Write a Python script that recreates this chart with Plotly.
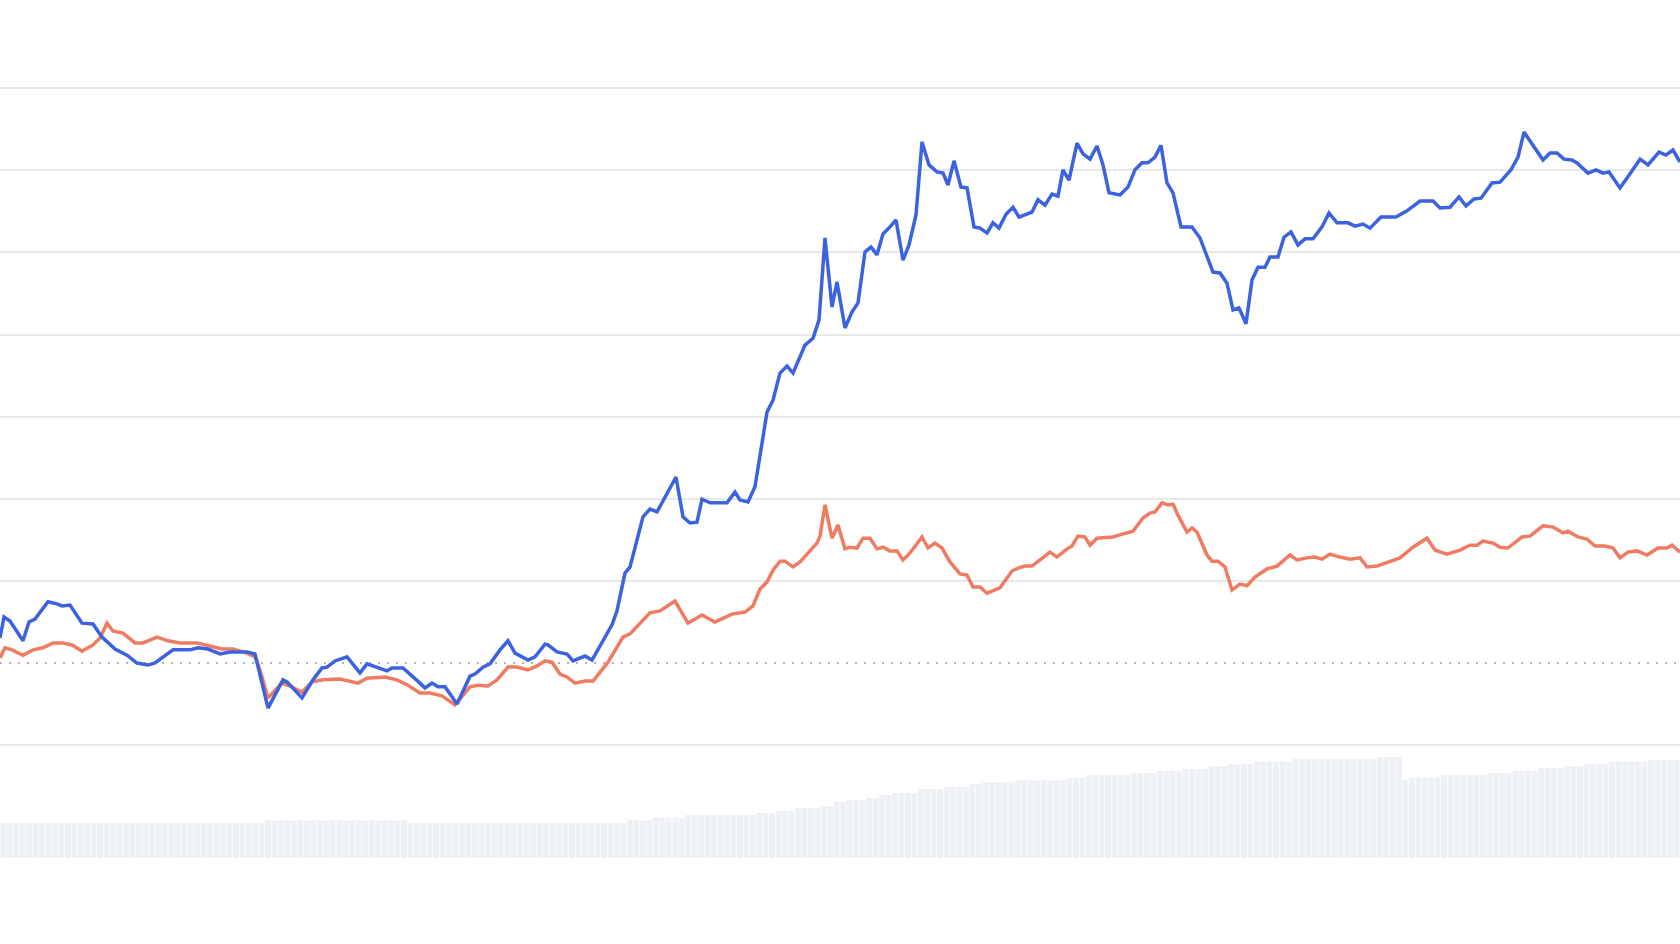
import plotly.graph_objects as go

# ---- data ----
# time axis for the two return lines (arbitrary day units)
t_blue = [0, 0.8, 2, 4.6, 5.8, 7, 9.6, 11.4, 12.4, 14, 16.4, 18.6, 20.4, 23, 25.4, 27.4, 29.6, 31, 34.6, 38,
          39.6, 41.6, 44, 46, 49.4, 51, 53.6, 56.6, 57.4, 60.4, 62.6, 64.4, 65.4, 67, 69.4, 72, 73.4, 75.4, 77.4, 78.4,
          80.6, 84, 85, 86.4, 87.6, 89, 91.4, 94, 95, 96.6, 98, 100, 101.6, 103, 105.6, 107, 109, 109.6, 111.4, 113.4,
          114.6, 117, 118.4, 122.4, 123.4, 125, 126, 128.6, 130, 131.4, 133, 135.2, 136.6, 138, 139.4, 140.4, 142, 145.4, 147, 148,
          149.6, 151, 153.4, 154.6, 156, 157.4, 158.6, 161, 162.6, 163.8, 165, 166.4, 167.4, 169, 170.4, 171.6, 173, 174.2, 175.4, 176.6,
          178, 179.2, 180.6, 181.8, 183.2, 184.4, 185.8, 187.4, 188.6, 189.6, 190.8, 192.2, 193.4, 194.8, 196, 197.4, 198.6, 199.8, 201.2, 202.6,
          203.8, 206.4, 207.6, 209, 210.4, 211.6, 212.6, 213.8, 215.4, 216.6, 218, 219.4, 220.6, 221.8, 224, 225.6, 227, 228.4, 229.6, 231,
          232.2, 233.4, 234.6, 236.2, 238.4, 240, 242.6, 244, 245.4, 246.6, 247.8, 249.2, 250.4, 251.6, 253, 254, 255.6, 256.8, 258.2, 259.6,
          261, 262.6, 264.4, 265.8, 267.4, 269.6, 271, 272.6, 274, 276.2, 279.2, 281.4, 284, 286.6, 288, 290, 291.8, 293.2, 294.8, 296.2,
          298.4, 300, 302.2, 303.6, 304.8, 307, 308.6, 310, 311.4, 312.8, 314.4, 315.4, 317.6, 319.2, 320.6, 321.8, 324, 325.8, 328, 329.6,
          331.8, 333.2, 334.6, 336]
blue = [6.1, 11.2, 10.2, 5.4, 10.0, 10.7, 14.9, 14.4, 13.9, 14.1, 9.7, 9.5, 6.3, 3.4, 1.9, 0.0, -0.5, 0.0, 3.2, 3.2,
        3.7, 3.4, 2.2, 2.7, 2.7, 2.2, -11.0, -4.1, -4.6, -8.5, -4.1, -1.2, -1.0, 0.5, 1.5, -2.4, -0.2, -1.0, -1.9, -1.2,
        -1.2, -4.9, -6.1, -4.9, -5.8, -5.8, -10.0, -3.2, -2.7, -1.0, -0.2, 3.2, 5.4, 2.4, 0.7, 1.5, 4.6, 4.4, 2.7, 2.2,
        0.5, 1.7, 0.7, 9.3, 12.7, 21.9, 23.4, 35.6, 37.5, 36.8, 40.4, 45.3, 35.6, 34.1, 34.3, 39.9, 39.0, 39.0, 41.6, 39.7,
        39.2, 42.9, 61.1, 64.0, 70.6, 72.3, 70.6, 77.4, 79.1, 83.5, 103.5, 86.7, 92.8, 81.6, 85.5, 87.7, 100.1, 101.3, 99.4, 104.5,
        106.2, 107.9, 98.1, 101.8, 109.1, 126.9, 121.3, 119.6, 119.3, 116.4, 122.3, 115.9, 115.7, 106.2, 105.9, 104.7, 107.2, 105.9, 109.3, 111.0,
        108.6, 109.8, 112.8, 111.5, 114.2, 113.7, 120.1, 117.6, 126.6, 124.0, 122.7, 125.9, 121.3, 114.5, 114.0, 115.9, 120.1, 121.8, 121.8, 123.2,
        126.1, 116.9, 114.5, 106.2, 106.2, 103.5, 95.2, 95.0, 92.5, 86.0, 86.5, 82.6, 93.3, 96.4, 96.4, 98.9, 98.9, 103.7, 105.0, 101.8,
        103.3, 103.3, 106.2, 109.6, 107.2, 107.2, 106.4, 106.9, 105.9, 108.6, 108.6, 110.1, 112.5, 112.5, 110.8, 111.0, 113.5, 111.3, 113.0, 113.2,
        116.9, 117.1, 120.1, 123.2, 129.3, 125.4, 122.5, 124.2, 124.2, 122.7, 122.5, 121.8, 119.3, 120.1, 119.3, 119.6, 115.7, 118.8, 122.7, 121.3,
        124.4, 123.7, 124.9, 122.0]

t_red = [0, 1, 2.4, 4.6, 6.6, 8.6, 10.6, 12.4, 14.4, 16.4, 18.6, 20, 21.4, 22.6, 24.6, 27, 28.6, 31.4, 33.6, 36,
         39.4, 42, 44.4, 46.6, 49.4, 51, 52, 53.6, 56.4, 58, 60.4, 62.4, 64.6, 68, 71.6, 73.4, 77, 79.4, 81.6, 84,
         86, 88.4, 91, 94, 95.6, 97.6, 99.4, 101.6, 103.4, 105.6, 107.4, 109, 110.4, 112, 113.4, 115, 117, 118.6, 121.6, 124.6,
         126, 130, 132, 135, 137.6, 140.4, 143, 146.4, 149, 150.6, 152, 153.4, 154.6, 156, 157, 158.6, 160, 162, 163.4, 164,
         165, 166.4, 167.6, 169, 170, 171.4, 172.6, 174, 175.4, 176.6, 178, 179.4, 180.6, 182, 184.4, 185.6, 187, 188.4, 190, 192,
         193.4, 194.6, 196, 197.4, 200, 202.4, 203.6, 205, 206.4, 208, 210, 211.4, 213.4, 214.4, 215.6, 217, 218, 219.4, 222.6, 224,
         225.4, 226.6, 228.6, 230, 231, 232.4, 233.6, 234.6, 235.6, 237.4, 238.4, 239.4, 241.4, 242.4, 243.6, 245, 246.4, 248, 249.4, 251,
         253.4, 255.4, 258, 259.4, 261.4, 263, 264.4, 266, 268, 270, 272, 273.4, 275.4, 278, 280, 282.6, 285.4, 287, 289.4, 292,
         294, 295.4, 296.6, 298.6, 300, 301.6, 304.4, 306, 308.6, 310.6, 312.6, 313.6, 315.6, 317.4, 319, 321, 322.6, 324, 325.6, 327.4,
         329.4, 331.6, 333.4, 334.4, 336]
red = [1.2, 3.7, 3.2, 1.9, 3.2, 3.7, 4.9, 4.9, 4.4, 2.9, 4.4, 6.1, 9.7, 7.8, 7.3, 4.9, 4.9, 6.3, 5.4, 4.9,
       4.9, 4.1, 3.4, 3.4, 2.4, 1.5, -1.7, -8.5, -4.9, -5.6, -7.1, -4.6, -4.1, -3.9, -4.9, -3.7, -3.4, -4.1, -5.4, -7.3,
       -7.3, -8.0, -10.2, -5.8, -5.4, -5.6, -4.1, -1.0, -1.0, -1.7, -0.7, 0.5, 0.2, -2.7, -3.4, -4.9, -4.4, -4.4, 0.2, 6.3,
       7.1, 12.2, 12.7, 15.1, 9.7, 11.7, 10.0, 11.9, 12.4, 13.9, 18.0, 19.7, 22.6, 24.8, 24.8, 23.4, 24.6, 27.3, 29.2, 30.9,
       38.5, 30.4, 33.6, 27.8, 28.2, 28.0, 30.4, 30.4, 27.8, 28.2, 27.3, 27.3, 25.1, 26.8, 30.7, 28.0, 29.2, 28.0, 24.6, 21.7,
       21.4, 18.5, 18.5, 17.0, 18.3, 22.4, 23.1, 23.6, 23.6, 25.1, 27.0, 25.8, 27.8, 28.5, 30.9, 30.7, 28.7, 30.4, 30.7, 31.2,
       31.7, 32.1, 35.3, 36.5, 36.8, 39.0, 38.5, 38.7, 36.0, 31.9, 32.9, 31.9, 26.3, 24.8, 24.8, 23.4, 17.8, 19.2, 18.8, 20.9,
       22.9, 23.6, 26.3, 25.1, 25.6, 25.8, 25.3, 26.5, 25.8, 25.3, 25.6, 23.4, 23.6, 24.8, 25.6, 28.2, 30.4, 27.5, 26.5, 27.5,
       28.7, 28.7, 29.7, 29.2, 28.2, 28.0, 30.7, 30.9, 33.4, 33.1, 31.7, 32.1, 30.7, 30.2, 28.5, 28.5, 28.0, 25.6, 27.0, 27.3,
       26.3, 28.0, 28.0, 28.7, 27.0]

# daily volume bars (one per trading day)
volume = [
    3.5, 3.5, 3.5, 3.5, 3.5, 3.5, 3.5, 3.5, 3.5, 3.5,
    3.5, 3.5, 3.5, 3.5, 3.5, 3.5, 3.5, 3.5, 3.5, 3.5,
    3.5, 3.5, 3.5, 3.5, 3.5, 3.5, 3.5, 3.5, 3.5, 3.5,
    3.5, 3.5, 3.5, 3.5, 3.5, 3.5, 3.5, 3.5, 3.5, 3.5, 3.5,
    3.8, 3.8, 3.8, 3.8, 3.8, 3.8, 3.8, 3.8, 3.8, 3.8, 3.8,
    3.8, 3.8, 3.8, 3.8, 3.8, 3.8, 3.8, 3.8, 3.8, 3.8, 3.8,
    3.5, 3.5, 3.5, 3.5, 3.5, 3.5, 3.5, 3.5, 3.5, 3.5,
    3.5, 3.5, 3.5, 3.5, 3.5, 3.5, 3.5, 3.5, 3.5, 3.5,
    3.5, 3.5, 3.5, 3.5, 3.5, 3.5, 3.5, 3.5, 3.5, 3.5,
    3.5, 3.5, 3.5, 3.5,
    3.8, 3.8, 3.8, 3.8,
    4.0, 4.0, 4.0, 4.0, 4.0,
    4.3, 4.3, 4.3, 4.3, 4.3, 4.3, 4.3, 4.3, 4.3, 4.3, 4.3,
    4.5, 4.5, 4.5,
    4.7, 4.7, 4.7,
    5.0, 5.0, 5.0, 5.0,
    5.2, 5.2,
    5.6, 5.6,
    5.8, 5.8, 5.8,
    6.0, 6.0,
    6.3, 6.3,
    6.5, 6.5, 6.5, 6.5,
    6.9, 6.9, 6.9, 6.9,
    7.1, 7.1, 7.1, 7.1,
    7.4, 7.4,
    7.6, 7.6, 7.6, 7.6, 7.6,
    7.8, 7.8, 7.8, 7.8, 7.8, 7.8, 7.8, 7.8,
    8.0, 8.0, 8.0,
    8.3, 8.3, 8.3, 8.3, 8.3, 8.3, 8.3,
    8.5, 8.5, 8.5, 8.5,
    8.7, 8.7, 8.7, 8.7,
    8.9, 8.9, 8.9, 8.9,
    9.2, 9.2, 9.2,
    9.4, 9.4, 9.4, 9.4,
    9.6, 9.6, 9.6, 9.6, 9.6, 9.6,
    9.9, 9.9, 9.9, 9.9, 9.9, 9.9, 9.9, 9.9, 9.9, 9.9, 9.9, 9.9, 9.9,
    10.1, 10.1, 10.1, 10.1,
    7.8,
    8.0, 8.0, 8.0, 8.0, 8.0,
    8.3, 8.3, 8.3, 8.3, 8.3, 8.3, 8.3,
    8.5, 8.5, 8.5, 8.5,
    8.7, 8.7, 8.7, 8.7,
    9.0, 9.0, 9.0, 9.0,
    9.2, 9.2, 9.2,
    9.4, 9.4, 9.4, 9.4,
    9.6, 9.6, 9.6, 9.6, 9.6, 9.6,
    9.8, 9.8, 9.8, 9.8, 9.8,
]
bar_days = list(range(len(volume)))

grid_vals = [-20, 20, 40, 60, 80, 100, 120, 140]

BLUE = "#3d62df"
RED = "#ef7b63"
BAR = "#edf0f4"

fig = go.Figure()

fig.add_trace(go.Bar(
    x=bar_days, y=volume, xaxis="x2", yaxis="y2",
    marker=dict(color=BAR, line=dict(width=0)),
    hoverinfo="skip", showlegend=False,
))

fig.add_trace(go.Scatter(
    x=t_red, y=red, mode="lines",
    line=dict(color=RED, width=3.5), showlegend=False,
))
fig.add_trace(go.Scatter(
    x=t_blue, y=blue, mode="lines",
    line=dict(color=BLUE, width=3.5), showlegend=False,
))

fig.add_shape(type="line", xref="paper", x0=0, x1=1, yref="y", y0=0, y1=0,
              line=dict(color="#9a9a9a", width=1.5, dash="2px,7px"), layer="below")

fig.update_layout(
    width=1680, height=944,
    margin=dict(l=0, r=0, t=0, b=0),
    paper_bgcolor="white", plot_bgcolor="white",
    bargap=0.12,
    xaxis=dict(range=[0, 336], visible=False, showgrid=False, zeroline=False),
    yaxis=dict(range=[-68.43, 161.46], tickmode="array", tickvals=grid_vals,
               showticklabels=False, showgrid=True, gridcolor="#e8e8e8", gridwidth=1.5,
               zeroline=False, showline=False, ticks=""),
    xaxis2=dict(range=[-0.5, 259.5], overlaying="x", visible=False, showgrid=False, zeroline=False),
    yaxis2=dict(range=[-8.6, 85.8], overlaying="y", visible=False, showgrid=False, zeroline=False),
)

fig.write_html("out.html", config={"displayModeBar": False},
               post_script="document.body.style.margin='0';document.body.style.overflow='hidden';")
